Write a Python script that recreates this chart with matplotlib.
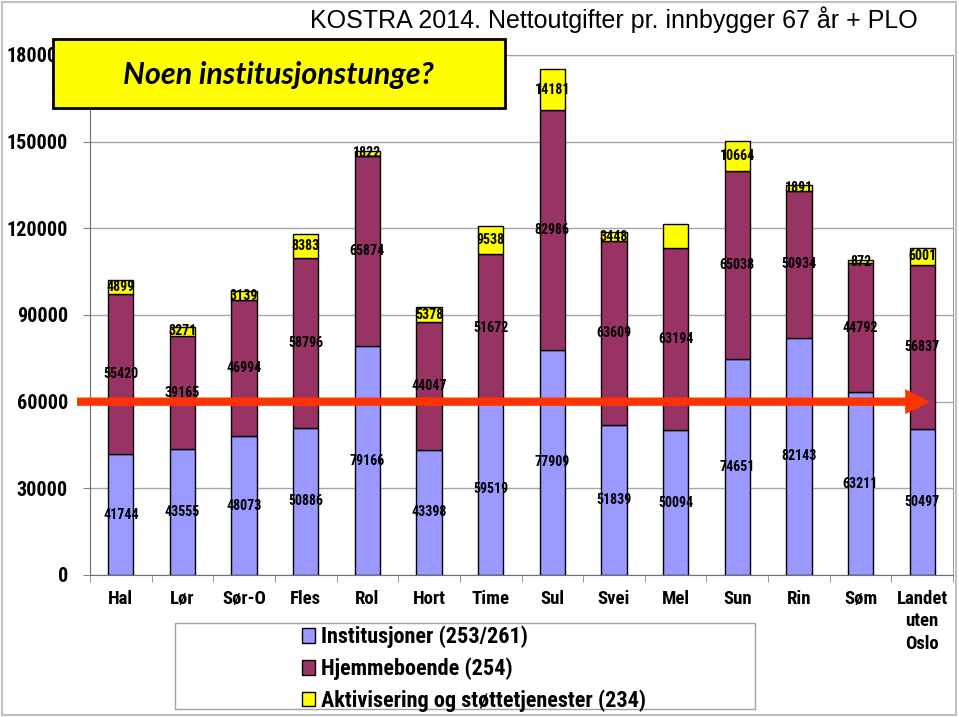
import numpy as np
import matplotlib.pyplot as plt
from matplotlib.patches import Rectangle
from matplotlib import font_manager as fm
from matplotlib.font_manager import FontProperties

# data
kommuner = ['Hal', 'Lør', 'Sør-O', 'Fles', 'Rol', 'Hort', 'Time', 'Sul', 'Svei',
            'Mel', 'Sun', 'Rin', 'Søm', 'Landet\nuten\nOslo']
institusjoner = [41744, 43555, 48073, 50886, 79166, 43398, 59519, 77909, 51839,
                 50094, 74651, 82143, 63211, 50497]
hjemmeboende = [55420, 39165, 46994, 58796, 65874, 44047, 51672, 82986, 63609,
                63194, 65038, 50934, 44792, 56837]
aktivisering = [4899, 3271, 3139, 8383, 1822, 5378, 9538, 14181, 3448,
                8300, 10664, 1891, 872, 6001]
# Mel has no label on its yellow segment in the original
vis_aktiv = [True] * 9 + [False] + [True] * 4
snitt = 60000
serier = ['Institusjoner (253/261)', 'Hjemmeboende (254)',
          'Aktivisering og støttetjenester (234)']
farger = ['#9999FF', '#993366', '#FFFF00']


# the original uses a narrow bold font (Arial Narrow); look for one, else shrink Liberation Sans
def finn_smal():
    for navn in ['Liberation Sans Narrow', 'Roboto Condensed', 'Open Sans Condensed',
                 'Noto Sans Condensed', 'DejaVu Sans Condensed']:
        for f in fm.fontManager.ttflist:
            if f.name == navn and str(f.weight) in ('bold', '700') and f.style == 'normal':
                return f.fname
    for f in fm.fontManager.ttflist:
        if (f.stretch in ('condensed', 'semi-condensed') and str(f.weight) in ('bold', '700')
                and f.style == 'normal'):
            return f.fname
    return None


sti = finn_smal()
if sti:
    smal = FontProperties(fname=sti)
    k = 1.0
else:
    smal = FontProperties(family=['Liberation Sans', 'DejaVu Sans'], weight='bold')
    k = 0.82


def fp(size):
    p = smal.copy()
    p.set_size(size * k)
    return p


W, H = 959, 717
fig = plt.figure(figsize=(W / 100, H / 100), dpi=100)
ax = fig.add_axes([90 / W, (H - 575) / H, 863 / W, 520 / H])

x = np.arange(len(kommuner))
inst = np.array(institusjoner)
hjem = np.array(hjemmeboende)
akt = np.array(aktivisering)
bw = 0.41

ax.bar(x, inst, bw, color=farger[0], edgecolor='black', lw=1, zorder=3)
ax.bar(x, hjem, bw, bottom=inst, color=farger[1], edgecolor='black', lw=1, zorder=3)
ax.bar(x, akt, bw, bottom=inst + hjem, color=farger[2], edgecolor='black', lw=1, zorder=3)

for i in range(len(x)):
    ax.text(x[i], inst[i] / 2, str(inst[i]), ha='center', va='center',
            fontproperties=fp(10), zorder=4)
    ax.text(x[i], inst[i] + hjem[i] / 2, str(hjem[i]), ha='center', va='center',
            fontproperties=fp(10), zorder=4)
    if vis_aktiv[i]:
        ax.text(x[i], inst[i] + hjem[i] + akt[i] / 2, str(akt[i]), ha='center',
                va='center', fontproperties=fp(10), zorder=4)

ax.set_xlim(-0.5, len(x) - 0.5)
ax.set_ylim(0, 180000)
ax.set_yticks(np.arange(0, 180001, 30000))
ax.yaxis.grid(True, color='#A6A6A6', lw=1)
ax.set_axisbelow(True)
ax.set_xticks(x)
ax.set_xticklabels(kommuner, linespacing=1.3)
for t in ax.get_xticklabels():
    t.set_fontproperties(fp(13.5))
ax.set_xticks(np.arange(-0.5, len(x), 1), minor=True)
ax.tick_params(axis='x', which='major', length=0, pad=11)
ax.tick_params(axis='x', which='minor', length=5, color='#808080')
ax.tick_params(axis='y', length=5, color='#808080', pad=11)
for t in ax.get_yticklabels():
    t.set_fontproperties(fp(14.5))
for s in ax.spines.values():
    s.set_color('#A0A0A0')
ax.spines['left'].set_color('#707070')
ax.spines['bottom'].set_color('#707070')

# red arrow at the average
ax.annotate('', xy=(13.13, snitt), xytext=(-0.71, snitt), xycoords='data',
            arrowprops=dict(facecolor='#FF3300', edgecolor='none', width=6,
                            headwidth=18, headlength=18, shrink=0),
            annotation_clip=False, zorder=6)

# title and callout box
fig.text(614 / W, 1 - 20 / H, 'KOSTRA 2014. Nettoutgifter pr. innbygger 67 år + PLO',
         ha='center', va='center', fontsize=18, family=['Liberation Sans', 'DejaVu Sans'])
boks = Rectangle((53 / W, 1 - 108 / H), 452 / W, 69 / H, transform=fig.transFigure,
                 facecolor='#FFFF00', edgecolor='black', lw=2, zorder=10)
fig.add_artist(boks)
fig.text(278 / W, 1 - 75 / H, 'Noen institusjonstunge?', ha='center', va='center',
         fontsize=22, fontstyle='italic', fontweight='bold',
         family=['Lato', 'DejaVu Sans'], zorder=11)

# legend with a fixed frame
ramme = Rectangle((175 / W, 1 - 709 / H), 580 / W, 86 / H, transform=fig.transFigure,
                  facecolor='white', edgecolor='#A0A0A0', lw=1, zorder=1)
fig.add_artist(ramme)
handles = [Rectangle((0, 0), 1, 1, facecolor=c, edgecolor='black') for c in farger]
leg = fig.legend(handles, serier, loc='center left', bbox_to_anchor=(291 / W, 1 - 669 / H),
                 frameon=False, handlelength=0.6, handleheight=0.6, handletextpad=0.25,
                 labelspacing=0.42 if k == 1.0 else 0.6, borderpad=0,
                 prop=fp(16))
leg.set_zorder(2)

fig.add_artist(Rectangle((0.002, 0.003), 0.995, 0.994, transform=fig.transFigure,
                         fill=False, edgecolor='#C0C0C0', lw=1.5))

fig.savefig('out.png', dpi=100)
